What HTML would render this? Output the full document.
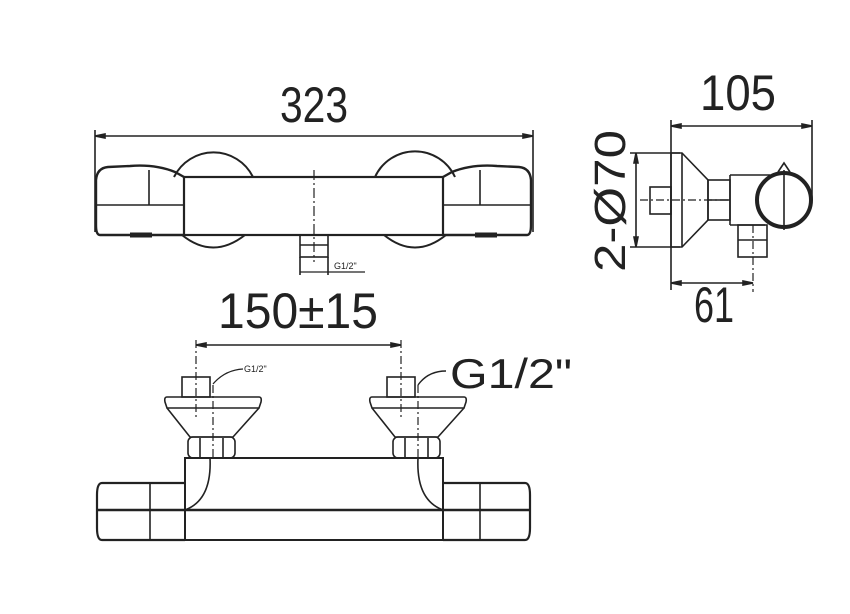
<!DOCTYPE html>
<html><head><meta charset="utf-8"><style>html,body{margin:0;padding:0;background:#fff}svg{display:block}</style></head>
<body>
<svg width="850" height="614" viewBox="0 0 850 614" xmlns="http://www.w3.org/2000/svg" font-family="Liberation Sans, sans-serif">
<g fill="none" stroke="#222" stroke-width="1.6">
<!-- Top view -->
<line x1="95" y1="136" x2="533" y2="136"/>
<line x1="95" y1="130" x2="95" y2="232"/>
<line x1="533" y1="130" x2="533" y2="232"/>
<polygon points="95,136 105,134 105,138" fill="#222"/>
<polygon points="533,136 523,134 523,138" fill="#222"/>
<path d="M174,177 A44,44 0 0 1 253,177" stroke-width="2"/>
<path d="M375,177 A44,44 0 0 1 455,177" stroke-width="2"/>
<path d="M182,235 Q213,260 245,235" stroke-width="2"/>
<path d="M384,235 Q415,260 446,235" stroke-width="2"/>
<path d="M184,177 L175,172 Q155,164 130,166 L108,167 Q97,168 96,180 L96,225 Q96,235 100,235 L184,235" stroke-width="2.4"/>
<path d="M443,177 L452,172 Q472,164 497,166 L519,167 Q530,168 531,180 L531,225 Q531,235 527,235 L443,235" stroke-width="2.4"/>
<line x1="149" y1="170" x2="149" y2="205"/><line x1="96" y1="205" x2="184" y2="205"/>
<line x1="480" y1="170" x2="480" y2="205"/><line x1="443" y1="205" x2="531" y2="205"/>
<rect x="184" y="177" width="259" height="58" stroke-width="2.2"/>
<line x1="130" y1="235" x2="152" y2="235" stroke-width="5"/>
<line x1="475" y1="235" x2="497" y2="235" stroke-width="5"/>
<line x1="314" y1="170" x2="314" y2="262" stroke-width="1.2" stroke-dasharray="10,3,2,3"/>
<rect x="300" y="235" width="28" height="22"/>
<line x1="300" y1="245" x2="328" y2="245"/>
<line x1="300" y1="257" x2="300" y2="275"/><line x1="328" y1="257" x2="328" y2="275"/>
<line x1="300" y1="272" x2="365" y2="272" stroke-width="1.2"/>
<!-- Side view -->
<line x1="671" y1="126" x2="812" y2="126"/>
<line x1="671" y1="120" x2="671" y2="290"/>
<line x1="812" y1="120" x2="812" y2="200"/>
<polygon points="671,126 681,124 681,128" fill="#222"/>
<polygon points="812,126 802,124 802,128" fill="#222"/>
<line x1="630" y1="153" x2="680" y2="153"/><line x1="630" y1="247" x2="680" y2="247"/>
<line x1="636" y1="153" x2="636" y2="247"/>
<polygon points="636,153 634,163 638,163" fill="#222"/>
<polygon points="636,247 634,237 638,237" fill="#222"/>
<path d="M671,153 L682,153 L708,180 L708,220 L682,247 L671,247 Z"/>
<line x1="682" y1="153" x2="682" y2="247"/>
<rect x="708" y="180" width="22" height="40"/>
<line x1="708" y1="200" x2="730" y2="200"/>
<path d="M730,175 L770,175 M730,225 L765,225 M730,175 L730,225"/>
<rect x="650" y="187" width="21" height="27"/>
<line x1="640" y1="200" x2="730" y2="200" stroke-width="1.2" stroke-dasharray="8,3,2,3"/>
<circle cx="784" cy="200" r="27" stroke-width="4"/>
<line x1="784" y1="170" x2="784" y2="230"/>
<path d="M778,172 L784,163 L790,172"/>
<rect x="738" y="225" width="29" height="32"/>
<line x1="738" y1="240" x2="767" y2="240"/>
<line x1="753" y1="225" x2="753" y2="292" stroke-width="1.2" stroke-dasharray="8,3,2,3"/>
<line x1="671" y1="283" x2="753" y2="283"/>
<polygon points="671,283 681,281 681,285" fill="#222"/>
<polygon points="753,283 743,281 743,285" fill="#222"/>
<!-- Front view -->
<line x1="196" y1="345" x2="401" y2="345"/>
<polygon points="196,345 206,343 206,347" fill="#222"/>
<polygon points="401,345 391,343 391,347" fill="#222"/>
<g id="inlet">
<line x1="196" y1="340" x2="196" y2="420" stroke-width="1.2" stroke-dasharray="8,3,2,3"/>
<line x1="213" y1="385" x2="213" y2="458" stroke-width="1.2" stroke-dasharray="8,3,2,3"/>
<rect x="182" y="377" width="28" height="20"/>
<path d="M167,397 L259,397 Q262,397 261,402 L259,408 L167,408 L165,402 Q164,397 167,397 Z"/>
<path d="M167,408 L190,437 L233,437 L259,408"/>
<rect x="188" y="437" width="47" height="21" rx="5"/>
<line x1="200" y1="438" x2="200" y2="457"/><line x1="223" y1="438" x2="223" y2="457"/>
</g>
<use href="#inlet" transform="translate(205,0)"/>
<path d="M210,458 Q212,500 185,510"/>
<path d="M418,458 Q416,500 443,510"/>
<rect x="185" y="458" width="258" height="82" stroke-width="2"/>
<line x1="97" y1="510" x2="530" y2="510" stroke-width="2.4"/>
<path d="M185,483 L102,483 Q97,483 97,495 L97,528 Q97,540 102,540 L185,540" stroke-width="2.2"/>
<path d="M443,483 L525,483 Q530,483 530,495 L530,528 Q530,540 525,540 L443,540" stroke-width="2.2"/>
<line x1="150" y1="483" x2="150" y2="540"/>
<line x1="480" y1="483" x2="480" y2="540"/>
<path d="M213,384 Q225,370 243,369" stroke-width="1.2"/>
<path d="M418,385 Q428,371 446,371" stroke-width="1.4"/>
</g>
<g fill="#222" font-size="50">
<text x="280" y="122" textLength="68" lengthAdjust="spacingAndGlyphs">323</text>
<text x="700" y="110" textLength="76" lengthAdjust="spacingAndGlyphs">105</text>
<text x="694" y="322" textLength="40" lengthAdjust="spacingAndGlyphs">61</text>
<text x="218" y="328" textLength="160" lengthAdjust="spacingAndGlyphs">150±15</text>
<text x="450" y="388" font-size="42" textLength="122" lengthAdjust="spacingAndGlyphs">G1/2"</text>
<text transform="translate(625,272) rotate(-90)" font-size="44" textLength="142" lengthAdjust="spacingAndGlyphs">2-Ø70</text>
<text x="334" y="269" font-size="9">G1/2"</text>
<text x="244" y="372" font-size="9">G1/2"</text>
</g>
</svg>
</body></html>
